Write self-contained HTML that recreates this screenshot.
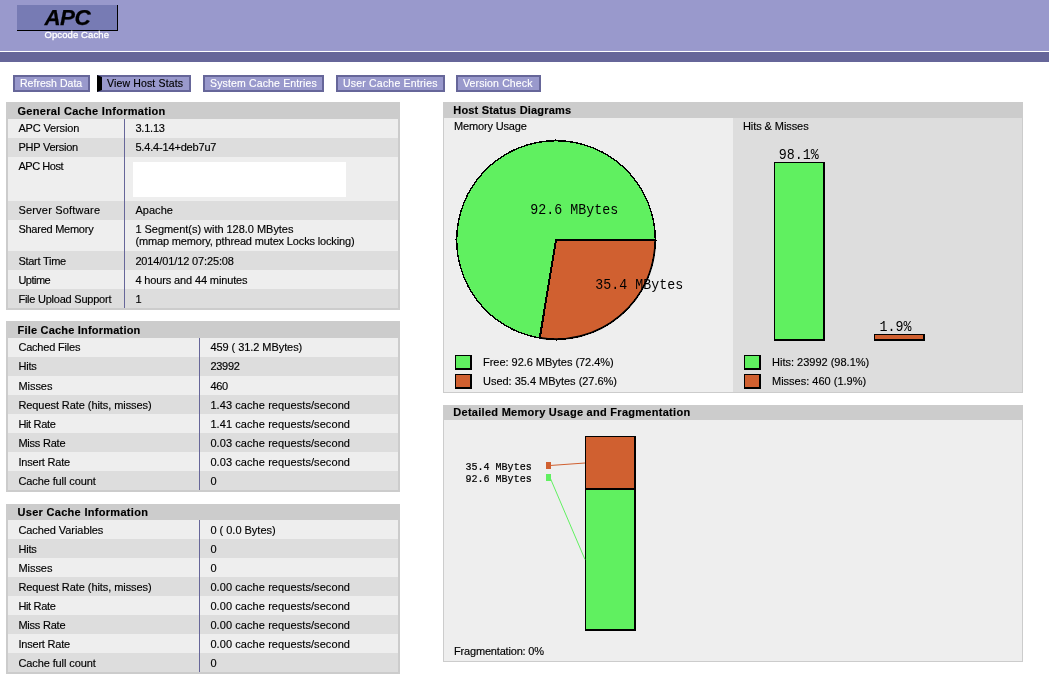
<!DOCTYPE html>
<html><head><meta charset="utf-8"><title>APC INFO</title>
<style>
html,body{margin:0;padding:0;background:#fff;}
body{width:1049px;height:682px;overflow:hidden;position:relative;font-family:"Liberation Sans",Arial,Helvetica,sans-serif;font-size:11px;line-height:13px;color:#000;-webkit-text-stroke:0.15px #000;}
.head{position:absolute;left:0;top:0;width:1049px;height:51px;background:rgb(153,153,204);}
.logo{position:absolute;left:17px;top:5px;width:100px;height:25px;background:rgb(119,123,180);border-right:1px solid #000;border-bottom:1px solid #000;}
.logo b{position:absolute;left:27.5px;top:0;font-size:22.4px;line-height:25px;font-style:italic;font-weight:bold;letter-spacing:-0.6px;-webkit-text-stroke:0.25px #000;}
.name{position:absolute;left:44.5px;top:29px;font-size:9.5px;line-height:11px;font-weight:normal;color:#fff;letter-spacing:0.1px;-webkit-text-stroke:0.3px #fff;white-space:nowrap;}
.hr{position:absolute;left:0;top:52px;width:1049px;height:10px;background:rgb(102,102,153);}
.menu a{position:absolute;top:75px;height:13px;border:2px solid rgb(102,102,153);background:rgb(153,153,204);color:#fff;font-weight:normal;-webkit-text-stroke:0.15px #fff;letter-spacing:0.15px;font-size:10.5px;line-height:13px;padding-left:5px;text-align:left;white-space:nowrap;text-decoration:none;}
.menu a.active{color:#000;-webkit-text-stroke:0.15px #000;border-left:5px solid #000;}
.info{position:absolute;background:rgb(204,204,204);}
h2{margin:0;font-size:11px;line-height:13px;font-weight:bold;letter-spacing:0.3px;padding:2px 0 1px 11px;height:13px;white-space:nowrap;}
.info h2{padding:3px 0 1px 11.5px;}
.info table{position:absolute;left:2px;top:17px;border-collapse:collapse;border-spacing:0;}
td{padding:3px 0 3px 10.4px;vertical-align:top;font-size:11px;line-height:13px;white-space:nowrap;letter-spacing:-0.1px;}
.d1 td{padding-top:4px;padding-bottom:2px;}
tr.tr-0{background:rgb(238,238,238);}
tr.tr-1{background:rgb(221,221,221);}
td.td-0{border-right:1px solid rgb(102,102,153);}
.graph{position:absolute;left:443px;width:580px;background:rgb(204,204,204);}
.g0{position:absolute;background:rgb(238,238,238);}
.g1{position:absolute;background:rgb(221,221,221);}
.lbl{position:absolute;white-space:nowrap;}
.box{position:absolute;width:14px;height:12px;border:1px solid #000;border-right-width:2px;border-bottom-width:2px;}
.green{background:#60F060;}.red{background:#D06030;}
svg{position:absolute;left:0;top:0;}
svg text{font-family:"Liberation Mono","DejaVu Sans Mono",monospace;fill:#000;}
</style></head><body>
<div class="head"><div class="logo"><b>APC</b></div><div class="name">Opcode Cache</div></div>
<div class="hr"></div>
<div class="menu">
<a style="left:13px;width:68px;letter-spacing:0.03px">Refresh Data</a>
<a class="active" style="left:97px;width:82px">View Host Stats</a>
<a style="left:203px;width:112px">System Cache Entries</a>
<a style="left:336px;width:100px;letter-spacing:0.2px">User Cache Entries</a>
<a style="left:456px;width:76px">Version Check</a>
</div>

<div class="info" style="left:6px;top:102px;width:394px;height:208px;">
<h2>General Cache Information</h2>
<table style="width:390px">
<tr class="tr-0" style="height:19px"><td class="td-0" style="letter-spacing:-0.14px;width:105.6px">APC Version</td><td style="letter-spacing:-0.20px">3.1.13</td></tr>
<tr class="tr-1" style="height:19px"><td class="td-0" style="letter-spacing:-0.24px">PHP Version</td><td style="letter-spacing:-0.17px">5.4.4-14+deb7u7</td></tr>
<tr class="tr-0" style="height:44px"><td class="td-0" style="letter-spacing:-0.44px">APC Host</td><td style="padding:5px 0 0 8px"><div style="width:213px;height:35px;background:#fff"></div></td></tr>
<tr class="tr-1" style="height:19px"><td class="td-0" style="letter-spacing:0.20px">Server Software</td><td style="letter-spacing:0.05px">Apache</td></tr>
<tr class="tr-0" style="height:31px"><td class="td-0" style="letter-spacing:-0.25px">Shared Memory</td><td style="line-height:12px"><span style="letter-spacing:-0.03px">1 Segment(s) with 128.0 MBytes</span><br><span style="letter-spacing:-0.15px">(mmap memory, pthread mutex Locks locking)</span></td></tr>
<tr class="tr-1 d1" style="height:19px"><td class="td-0" style="letter-spacing:-0.26px">Start Time</td><td style="letter-spacing:-0.13px">2014/01/12 07:25:08</td></tr>
<tr class="tr-0 d1" style="height:19px"><td class="td-0" style="letter-spacing:-0.50px">Uptime</td><td style="letter-spacing:-0.13px">4 hours and 44 minutes</td></tr>
<tr class="tr-1 d1" style="height:19px"><td class="td-0" style="letter-spacing:-0.23px">File Upload Support</td><td>1</td></tr>
</table></div>

<div class="info" style="left:6px;top:321px;width:394px;height:171px;">
<h2 style="letter-spacing:0.2px">File Cache Information</h2>
<table style="width:390px">
<tr class="tr-0" style="height:19px"><td class="td-0" style="letter-spacing:-0.20px;width:180.6px">Cached Files</td><td style="letter-spacing:-0.06px">459 ( 31.2 MBytes)</td></tr>
<tr class="tr-1" style="height:19px"><td class="td-0" style="letter-spacing:-0.20px">Hits</td><td style="letter-spacing:-0.25px">23992</td></tr>
<tr class="tr-0 d1" style="height:19px"><td class="td-0" style="letter-spacing:-0.04px">Misses</td><td style="letter-spacing:-0.30px">460</td></tr>
<tr class="tr-1 d1" style="height:19px"><td class="td-0" style="letter-spacing:-0.07px">Request Rate (hits, misses)</td><td style="letter-spacing:0.08px">1.43 cache requests/second</td></tr>
<tr class="tr-0 d1" style="height:19px"><td class="td-0" style="letter-spacing:-0.33px">Hit Rate</td><td style="letter-spacing:0.08px">1.41 cache requests/second</td></tr>
<tr class="tr-1 d1" style="height:19px"><td class="td-0" style="letter-spacing:-0.22px">Miss Rate</td><td style="letter-spacing:0.08px">0.03 cache requests/second</td></tr>
<tr class="tr-0 d1" style="height:19px"><td class="td-0" style="letter-spacing:-0.20px">Insert Rate</td><td style="letter-spacing:0.08px">0.03 cache requests/second</td></tr>
<tr class="tr-1 d1" style="height:19px"><td class="td-0" style="letter-spacing:-0.10px">Cache full count</td><td>0</td></tr>
</table></div>

<div class="info" style="left:6px;top:504px;width:394px;height:170px;">
<h2 style="padding-top:2px">User Cache Information</h2>
<table class="d1" style="width:390px;top:16px">
<tr class="tr-0" style="height:19px"><td class="td-0" style="letter-spacing:-0.07px;width:180.6px">Cached Variables</td><td style="letter-spacing:-0.01px">0 ( 0.0 Bytes)</td></tr>
<tr class="tr-1" style="height:19px"><td class="td-0" style="letter-spacing:-0.20px">Hits</td><td>0</td></tr>
<tr class="tr-0" style="height:19px"><td class="td-0" style="letter-spacing:-0.04px">Misses</td><td>0</td></tr>
<tr class="tr-1" style="height:19px"><td class="td-0" style="letter-spacing:-0.07px">Request Rate (hits, misses)</td><td style="letter-spacing:0.08px">0.00 cache requests/second</td></tr>
<tr class="tr-0" style="height:19px"><td class="td-0" style="letter-spacing:-0.33px">Hit Rate</td><td style="letter-spacing:0.08px">0.00 cache requests/second</td></tr>
<tr class="tr-1" style="height:19px"><td class="td-0" style="letter-spacing:-0.22px">Miss Rate</td><td style="letter-spacing:0.08px">0.00 cache requests/second</td></tr>
<tr class="tr-0" style="height:19px"><td class="td-0" style="letter-spacing:-0.20px">Insert Rate</td><td style="letter-spacing:0.08px">0.00 cache requests/second</td></tr>
<tr class="tr-1" style="height:19px"><td class="td-0" style="letter-spacing:-0.10px">Cache full count</td><td>0</td></tr>
</table></div>

<div class="graph" style="top:102px;height:291px;">
<h2 style="letter-spacing:0.18px;padding-left:10.3px">Host Status Diagrams</h2>
<div class="g0" style="left:1px;top:16px;width:289px;height:273px;border-top:1px solid rgb(238,238,238);">
 <div class="lbl" style="left:10px;top:1px;letter-spacing:-0.16px">Memory Usage</div>
 <svg width="289" height="273" viewBox="0 0 289 273">
  <g transform="translate(12,20)" shape-rendering="crispEdges">
   <circle cx="100" cy="101" r="99.5" fill="#60F060" stroke="none"/>
   <path d="M100 101 L199.5 101 A99.5 99.5 0 0 1 83.75 199.16 Z" fill="#D06030" stroke="none"/>
   <circle cx="100" cy="101" r="99.3" fill="none" stroke="#000" stroke-width="1.4"/>
   <path d="M199.2 101 A99.2 99.2 0 0 1 83.8 198.87" fill="none" stroke="#000" stroke-width="1.7" shape-rendering="auto"/>
   <path d="M200 101 L100 101 L83.67 199.66" fill="none" stroke="#000" stroke-width="2" stroke-linejoin="miter"/>
   <rect x="-1" y="100" width="1" height="1" fill="#000"/><rect x="200" y="101" width="1" height="1" fill="#000"/><rect x="99" y="0" width="1" height="1" fill="#000"/><rect x="100" y="201" width="1" height="1" fill="#000"/>
  </g>
  <text transform="translate(86.3,95) scale(1,1.15)" font-size="13.33">92.6 MBytes</text>
  <text transform="translate(151.2,170) scale(1,1.15)" font-size="13.33">35.4 MBytes</text>
 </svg>
 <span class="box green" style="left:11px;top:236px"></span><div class="lbl" style="left:39px;top:237px;letter-spacing:-0.03px">Free: 92.6 MBytes (72.4%)</div>
 <span class="box red" style="left:11px;top:255px"></span><div class="lbl" style="left:39px;top:256px;letter-spacing:-0.02px">Used: 35.4 MBytes (27.6%)</div>
</div>
<div class="g1" style="left:290px;top:16px;width:289px;height:273px;border-top:1px solid rgb(221,221,221);">
 <div class="lbl" style="left:10px;top:1px;letter-spacing:-0.08px">Hits &amp; Misses</div>
 <svg width="289" height="273" viewBox="0 0 289 273" shape-rendering="crispEdges">
  <rect x="41" y="43" width="51" height="179" fill="#000"/>
  <rect x="42" y="44" width="48" height="176" fill="#60F060"/>
  <rect x="141" y="215" width="51" height="7" fill="#000"/>
  <rect x="142" y="216" width="48" height="4" fill="#D06030"/>
  <text transform="translate(45.7,40) scale(1,1.15)" font-size="13.33">98.1%</text>
  <text transform="translate(146.4,212) scale(1,1.15)" font-size="13.33">1.9%</text>
 </svg>
 <span class="box green" style="left:11px;top:236px"></span><div class="lbl" style="left:39px;top:237px">Hits: 23992 (98.1%)</div>
 <span class="box red" style="left:11px;top:255px"></span><div class="lbl" style="left:39px;top:256px">Misses: 460 (1.9%)</div>
</div>
</div>

<div class="graph" style="top:405px;height:257px;">
<h2 style="letter-spacing:0.28px;padding:1px 0 0 10.3px">Detailed Memory Usage and Fragmentation</h2>
<div class="g0" style="left:1px;top:15px;width:578px;height:239px;border-top:2px solid rgb(238,238,238);">
 <svg width="578" height="239" viewBox="0 0 578 239">
  <g shape-rendering="crispEdges">
  <rect x="141" y="14" width="51" height="195" fill="#000"/>
  <rect x="142" y="15" width="48" height="51" fill="#D06030"/>
  <rect x="142" y="68" width="48" height="139" fill="#60F060"/>
  <rect x="102" y="40" width="5" height="7" fill="#D06030"/>
  <rect x="102" y="52" width="5" height="7" fill="#60F060"/>
  </g>
  <line x1="106" y1="43.5" x2="141" y2="41" stroke="#D06030"/>
  <line x1="106" y1="55.5" x2="141" y2="137.5" stroke="#60F060"/>
  <text transform="translate(21.4,48) scale(1,1.15)" font-size="10.05" stroke="#000" stroke-width="0.2">35.4 MBytes</text>
  <text transform="translate(21.4,60) scale(1,1.15)" font-size="10.05" stroke="#000" stroke-width="0.2">92.6 MBytes</text>
 </svg>
 <div class="lbl" style="left:10px;top:223px;letter-spacing:-0.18px">Fragmentation: 0%</div>
</div>
</div>
</body></html>
